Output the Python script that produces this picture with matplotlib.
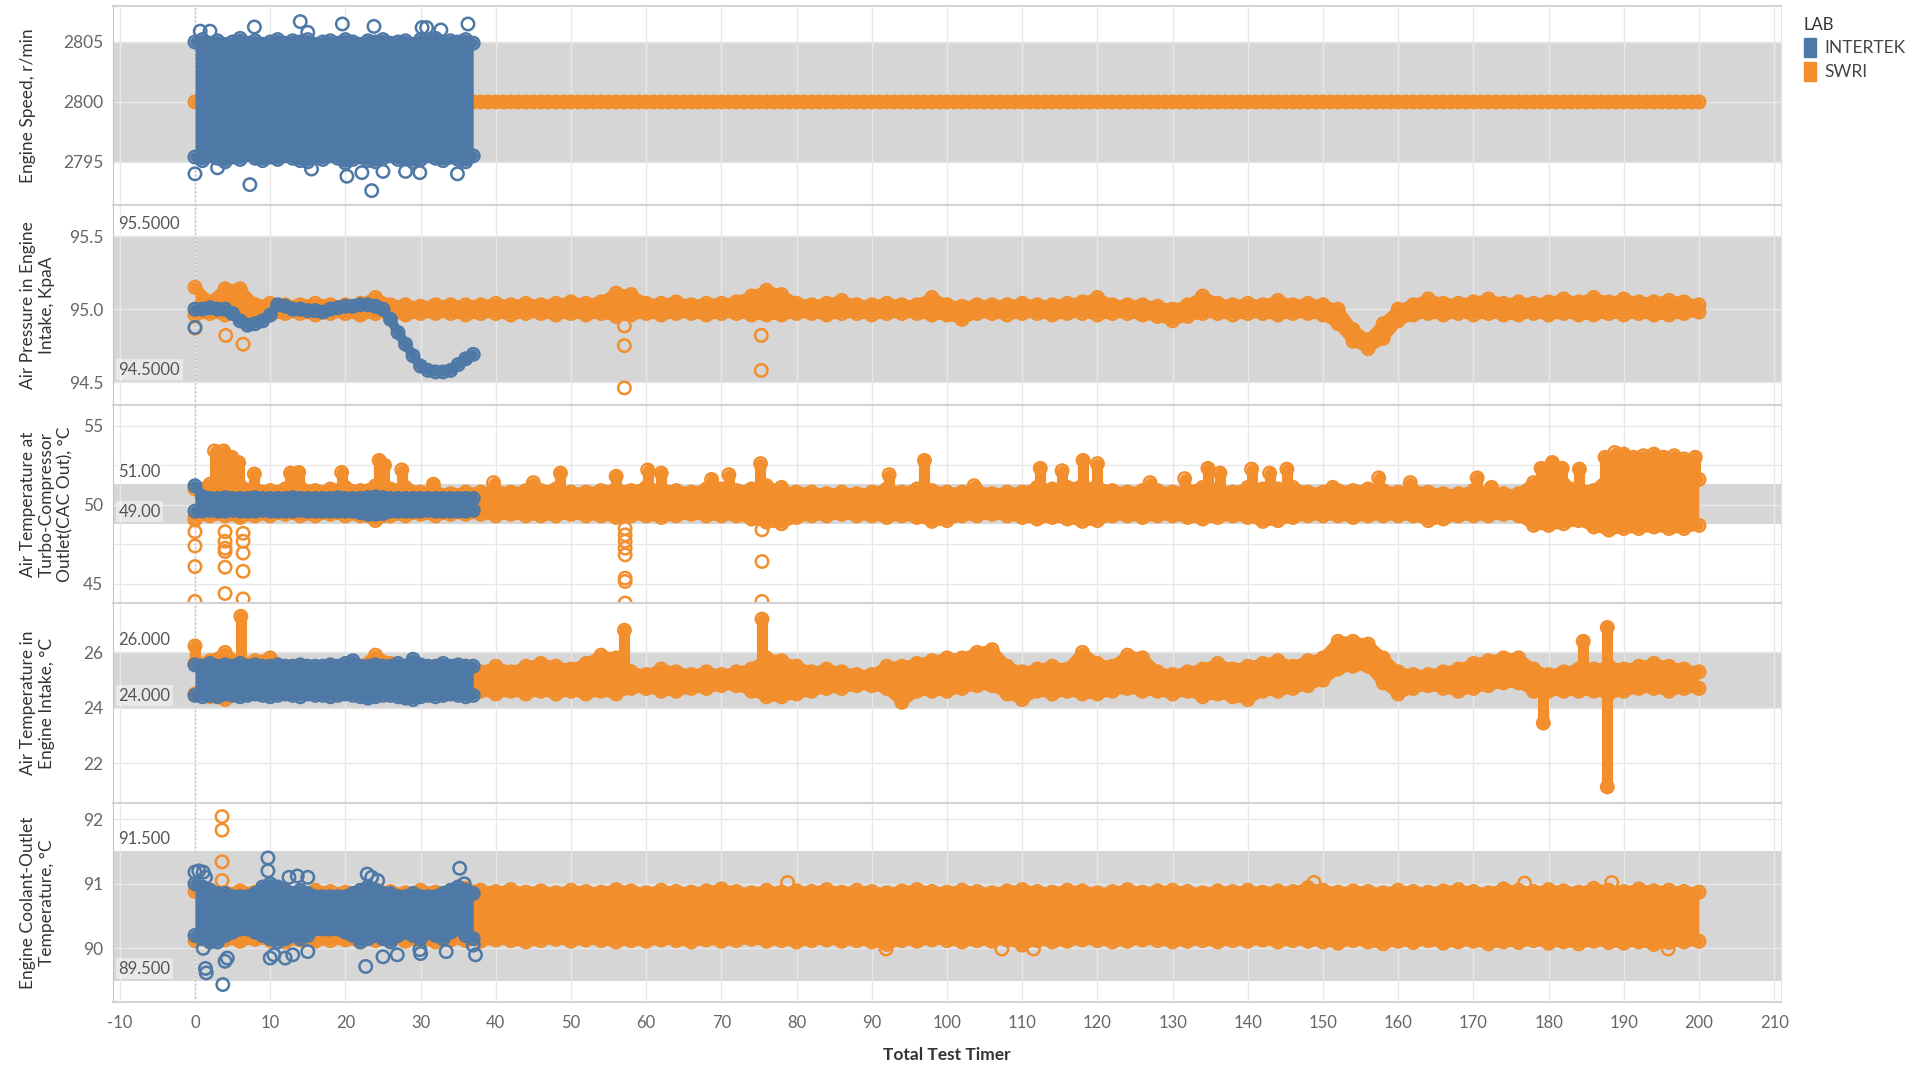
import matplotlib.pyplot as plt
from matplotlib.patches import Patch

plt.rcParams['font.family'] = ['Lato', 'DejaVu Sans']
plt.rcParams['axes.unicode_minus'] = False

BLUE = '#4E79A7'
ORANGE = '#F28E2B'
BAND = '#D6D6D6'

# Total Test Timer stamps
swri_t = list(range(0, 201, 2))
itk_t = list(range(0, 38))

# ---- Engine speed, r/min ----
swri_speed_t = list(range(0, 201))
swri_speed = [2800] * len(swri_speed_t)
itk_speed_hi = [2805.0, 2805.2, 2804.9, 2805.1, 2804.8, 2805.0, 2805.3, 2804.9, 2805.1, 2804.8,
                2805.0, 2805.2, 2804.9, 2805.1, 2805.0, 2805.2, 2804.8, 2805.0, 2805.1, 2804.9,
                2805.2, 2805.0, 2804.8, 2805.1, 2805.0, 2805.2, 2804.9, 2805.0, 2805.1, 2804.8,
                2805.2, 2805.0, 2805.3, 2804.9, 2805.1, 2805.0, 2805.2, 2804.9]
itk_speed_lo = [2795.4, 2795.1, 2795.5, 2795.3, 2795.0, 2795.4, 2795.2, 2795.6, 2795.3, 2795.1,
                2795.4, 2795.2, 2795.5, 2795.3, 2795.1, 2795.0, 2795.4, 2795.2, 2795.5, 2795.3,
                2794.9, 2795.2, 2795.4, 2795.1, 2795.0, 2795.3, 2795.5, 2795.2, 2795.4, 2795.0,
                2795.2, 2795.5, 2795.3, 2795.1, 2795.4, 2795.2, 2795.0, 2795.5]
itk_speed_out_t = [0.7, 2.0, 7.9, 14.0, 15.0, 19.6, 23.8, 30.2, 30.8, 32.7, 36.3,
                   0.0, 3.0, 7.3, 15.5, 20.2, 22.2, 23.5, 25.0, 28.0, 29.9, 34.9]
itk_speed_out = [2805.9, 2805.9, 2806.25, 2806.7, 2805.8, 2806.5, 2806.3, 2806.2, 2806.2, 2806.0, 2806.5,
                 2794.0, 2794.5, 2793.1, 2794.4, 2793.8, 2794.1, 2792.6, 2794.2, 2794.2, 2794.1, 2794.0]

# ---- Air pressure in engine intake, KpaA ----
swri_pres_hi = [95.15, 95.05, 95.14, 95.14, 95.03, 95.04, 95.03, 95.03, 95.04, 95.03,
                95.03, 95.04, 95.08, 95.03, 95.03, 95.02, 95.03, 95.03, 95.03, 95.03,
                95.04, 95.03, 95.04, 95.03, 95.04, 95.05, 95.04, 95.05, 95.11, 95.10,
                95.04, 95.04, 95.05, 95.03, 95.04, 95.04, 95.05, 95.09, 95.13, 95.10,
                95.04, 95.03, 95.04, 95.06, 95.03, 95.03, 95.04, 95.03, 95.03, 95.08,
                95.03, 95.02, 95.03, 95.03, 95.03, 95.04, 95.03, 95.03, 95.04, 95.05,
                95.08, 95.03, 95.03, 95.03, 95.02, 95.00, 95.03, 95.09, 95.04, 95.03,
                95.04, 95.03, 95.06, 95.03, 95.04, 95.03, 95.00, 94.86, 94.79, 94.90,
                95.00, 95.03, 95.07, 95.04, 95.04, 95.05, 95.07, 95.04, 95.05, 95.04,
                95.05, 95.07, 95.05, 95.08, 95.05, 95.07, 95.05, 95.05, 95.06, 95.05, 95.03]
swri_pres_lo = [94.96, 94.97, 94.96, 94.96, 94.97, 94.96, 94.97, 94.97, 94.96, 94.97,
                94.97, 94.96, 94.97, 94.97, 94.96, 94.97, 94.97, 94.97, 94.96, 94.97,
                94.97, 94.96, 94.97, 94.97, 94.96, 94.97, 94.96, 94.97, 94.95, 94.96,
                94.97, 94.96, 94.97, 94.97, 94.96, 94.97, 94.97, 94.96, 94.96, 94.96,
                94.97, 94.97, 94.96, 94.97, 94.97, 94.96, 94.97, 94.97, 94.97, 94.96,
                94.96, 94.93, 94.97, 94.97, 94.96, 94.97, 94.97, 94.96, 94.97, 94.97,
                94.96, 94.97, 94.97, 94.96, 94.95, 94.92, 94.95, 94.97, 94.97, 94.96,
                94.97, 94.97, 94.96, 94.97, 94.97, 94.96, 94.90, 94.78, 94.73, 94.80,
                94.92, 94.96, 94.97, 94.96, 94.97, 94.96, 94.97, 94.96, 94.96, 94.97,
                94.96, 94.97, 94.96, 94.96, 94.97, 94.96, 94.97, 94.96, 94.96, 94.97, 94.98]
swri_pres_out_t = [0.0, 4.1, 6.4, 57.1, 57.1, 57.1, 75.3, 75.3]
swri_pres_out = [94.87, 94.82, 94.76, 94.885, 94.75, 94.46, 94.82, 94.58]
itk_pres = [95.00, 95.00, 95.01, 95.00, 95.00, 94.97, 94.92, 94.89, 94.90, 94.92,
            94.96, 95.03, 95.02, 95.00, 95.00, 94.99, 94.99, 94.98, 95.00, 95.01,
            95.02, 95.02, 95.03, 95.03, 95.02, 95.00, 94.93, 94.84, 94.76, 94.68,
            94.61, 94.58, 94.57, 94.57, 94.58, 94.62, 94.66, 94.69]
itk_pres_out_t = [0.0]
itk_pres_out = [94.875]

# ---- Air temperature at turbo-compressor outlet (CAC out), °C ----
swri_cac_hi = [51.0, 51.3, 51.5, 51.2, 51.0, 50.9, 51.0, 51.1, 50.9, 51.0,
               51.1, 50.9, 51.2, 51.0, 51.1, 50.8, 50.8, 50.7, 50.8, 50.8,
               50.9, 50.8, 50.9, 50.9, 51.0, 50.8, 50.8, 50.9, 51.0, 50.9,
               51.1, 51.0, 50.9, 50.8, 51.0, 51.0, 50.9, 51.0, 51.2, 50.9,
               50.8, 50.8, 50.7, 50.8, 50.7, 50.8, 51.0, 50.8, 51.0, 50.9,
               50.8, 50.8, 50.9, 50.7, 50.8, 50.8, 51.1, 51.0, 51.1, 51.2,
               51.1, 50.9, 50.8, 50.9, 50.9, 50.8, 50.9, 51.1, 51.0, 50.8,
               51.1, 51.0, 51.0, 51.1, 50.8, 50.8, 50.9, 50.9, 51.0, 50.9,
               50.8, 50.9, 50.8, 50.7, 50.7, 50.9, 50.8, 50.7, 50.7, 51.4,
               51.6, 51.3, 51.0, 50.9, 51.8, 51.9, 51.8, 51.9, 51.8, 51.9, 51.6]
swri_cac_lo = [49.2, 49.3, 49.3, 49.2, 49.3, 49.3, 49.4, 49.3, 49.3, 49.4,
               49.3, 49.3, 49.0, 49.3, 49.3, 49.4, 49.3, 49.4, 49.4, 49.4,
               49.3, 49.4, 49.3, 49.3, 49.3, 49.4, 49.3, 49.3, 49.2, 49.3,
               49.3, 49.2, 49.3, 49.4, 49.3, 49.3, 49.3, 49.1, 48.9, 48.8,
               49.2, 49.3, 49.3, 49.4, 49.3, 49.3, 49.2, 49.3, 49.2, 48.95,
               49.0, 49.3, 49.3, 49.4, 49.3, 49.2, 49.1, 49.2, 49.1, 48.95,
               49.0, 49.3, 49.3, 49.2, 49.3, 49.3, 49.2, 49.1, 49.2, 49.3,
               49.2, 48.95, 49.0, 49.2, 49.3, 49.3, 49.3, 49.2, 49.3, 49.3,
               49.3, 49.3, 49.0, 49.1, 49.3, 49.3, 49.3, 49.4, 49.3, 48.7,
               48.7, 48.8, 49.0, 48.6, 48.4, 48.5, 48.5, 48.6, 48.5, 48.5, 48.7]
swri_cac_spike_t = [2.6, 3.8, 4.9, 5.8, 7.9, 12.7, 13.8, 19.5, 24.5, 25.2, 27.5, 31.7,
                    39.7, 45.0, 48.6, 56.0, 60.2, 62.0, 68.7, 71.0, 75.2, 78.0, 92.3, 97.0,
                    103.6, 112.4, 115.3, 118.1, 120.0, 127.0, 131.6, 134.7, 136.3, 140.5, 142.9,
                    145.2, 151.3, 157.4, 161.6, 170.5, 172.4, 179.0, 180.5, 181.8, 184.1,
                    187.5, 188.8, 190.0, 191.3, 192.6, 194.0, 195.3, 196.7, 198.0, 199.5]
swri_cac_spike_base = [50.5, 50.5, 50.5, 50.5, 50.8, 50.8, 50.8, 50.8, 50.8, 50.8, 50.8, 50.8,
                       50.8, 50.8, 50.8, 50.8, 50.8, 50.8, 50.8, 50.8, 50.8, 50.8, 50.8, 50.8,
                       50.8, 50.8, 50.8, 50.8, 50.8, 50.8, 50.8, 50.8, 50.8, 50.8, 50.8,
                       50.8, 50.8, 50.8, 50.8, 50.8, 50.8, 51.0, 51.0, 51.0, 50.8,
                       51.5, 51.5, 51.5, 51.5, 51.5, 51.5, 51.5, 51.5, 51.5, 51.5]
swri_cac_spike_top = [53.4, 53.4, 53.0, 52.67, 51.94, 52.0, 52.04, 52.04, 52.8, 52.5, 52.2, 51.3,
                      51.4, 51.4, 52.0, 51.8, 52.2, 52.0, 51.6, 51.9, 52.6, 51.1, 51.9, 52.8,
                      51.2, 52.3, 52.15, 52.8, 52.6, 51.4, 51.65, 52.3, 52.0, 52.25, 52.0,
                      52.25, 51.1, 51.7, 51.4, 51.7, 51.1, 52.3, 52.67, 52.3, 52.25,
                      53.0, 53.3, 53.2, 53.0, 53.1, 53.2, 53.0, 53.1, 52.9, 53.0]
swri_cac_out_t = [0.0, 0.0, 0.0, 0.0, 0.0,
                  4.0, 4.0, 4.0, 4.0, 4.0, 4.0,
                  6.4, 6.4, 6.4, 6.4, 6.4,
                  57.2, 57.2, 57.2, 57.2, 57.2, 57.2, 57.2, 57.2,
                  75.4, 75.4, 75.4]
swri_cac_out = [49.05, 48.3, 47.4, 46.1, 43.9,
                48.3, 47.7, 47.26, 47.05, 46.06, 44.4,
                48.2, 47.7, 46.95, 45.8, 44.06,
                48.5, 48.1, 47.7, 47.26, 46.84, 45.37, 45.16, 43.8,
                48.42, 46.42, 43.9]
itk_cac_hi = [51.2, 50.5, 50.4, 50.4, 50.45, 50.4, 50.4, 50.4, 50.45, 50.4,
              50.4, 50.4, 50.4, 50.45, 50.4, 50.4, 50.4, 50.4, 50.4, 50.45,
              50.4, 50.4, 50.4, 50.45, 50.5, 50.45, 50.4, 50.4, 50.4, 50.4,
              50.4, 50.4, 50.4, 50.4, 50.4, 50.4, 50.4, 50.4]
itk_cac_lo = [49.6, 49.6, 49.65, 49.6, 49.6, 49.65, 49.6, 49.6, 49.6, 49.65,
              49.6, 49.6, 49.6, 49.6, 49.65, 49.6, 49.6, 49.6, 49.6, 49.6,
              49.6, 49.6, 49.5, 49.4, 49.4, 49.45, 49.6, 49.6, 49.6, 49.6,
              49.6, 49.65, 49.6, 49.6, 49.6, 49.6, 49.6, 49.65]

# ---- Air temperature in engine intake, °C ----
swri_int_hi = [25.6, 25.7, 26.0, 25.6, 25.7, 25.8, 25.5, 25.5, 25.4, 25.5,
               25.4, 25.5, 25.9, 25.6, 25.4, 25.5, 25.5, 25.4, 25.5, 25.3,
               25.5, 25.3, 25.5, 25.6, 25.5, 25.4, 25.6, 25.9, 25.8, 25.3,
               25.2, 25.4, 25.3, 25.2, 25.3, 25.2, 25.3, 25.4, 25.8, 25.7,
               25.5, 25.3, 25.4, 25.3, 25.2, 25.2, 25.5, 25.5, 25.6, 25.7,
               25.8, 25.8, 26.0, 26.1, 25.5, 25.3, 25.4, 25.5, 25.4, 26.0,
               25.6, 25.5, 25.9, 25.8, 25.3, 25.2, 25.3, 25.4, 25.6, 25.4,
               25.5, 25.6, 25.7, 25.5, 25.7, 25.8, 26.4, 26.4, 26.3, 25.8,
               25.3, 25.2, 25.2, 25.3, 25.4, 25.6, 25.7, 25.8, 25.8, 25.4,
               25.2, 25.3, 25.4, 25.4, 25.5, 25.4, 25.5, 25.6, 25.5, 25.4, 25.3]
swri_int_lo = [24.5, 24.4, 24.3, 24.5, 24.6, 24.5, 24.6, 24.6, 24.6, 24.5,
               24.6, 24.6, 24.5, 24.6, 24.6, 24.6, 24.6, 24.6, 24.7, 24.6,
               24.5, 24.6, 24.5, 24.6, 24.5, 24.6, 24.5, 24.6, 24.5, 24.7,
               24.7, 24.6, 24.6, 24.7, 24.7, 24.8, 24.8, 24.6, 24.4, 24.4,
               24.5, 24.6, 24.7, 24.7, 24.8, 24.8, 24.7, 24.2, 24.6, 24.6,
               24.6, 24.7, 24.8, 24.8, 24.5, 24.3, 24.6, 24.5, 24.6, 24.5,
               24.5, 24.6, 24.7, 24.6, 24.6, 24.5, 24.6, 24.4, 24.5, 24.4,
               24.3, 24.6, 24.6, 24.7, 24.8, 25.0, 25.4, 25.5, 25.5, 24.9,
               24.5, 24.7, 24.8, 24.7, 24.6, 24.7, 24.8, 24.9, 24.9, 24.6,
               24.6, 24.6, 24.6, 24.6, 24.5, 24.6, 24.7, 24.7, 24.6, 24.7, 24.7]
swri_int_spike_t = [0.0, 6.1, 57.1, 75.4, 179.3, 184.6, 187.8, 187.8]
swri_int_spike_base = [25.5, 25.5, 25.5, 25.6, 24.6, 25.4, 25.4, 24.6]
swri_int_spike_top = [26.23, 27.3, 26.8, 27.2, 23.45, 26.4, 26.9, 21.15]
itk_int_hi = [25.55, 25.5, 25.6, 25.5, 25.55, 25.5, 25.6, 25.5, 25.55, 25.5,
              25.5, 25.55, 25.5, 25.5, 25.55, 25.5, 25.5, 25.5, 25.55, 25.5,
              25.6, 25.7, 25.5, 25.5, 25.55, 25.5, 25.5, 25.6, 25.5, 25.75,
              25.55, 25.5, 25.5, 25.6, 25.5, 25.55, 25.5, 25.5]
itk_int_lo = [24.45, 24.4, 24.45, 24.4, 24.5, 24.45, 24.4, 24.45, 24.5, 24.45,
              24.4, 24.45, 24.5, 24.45, 24.4, 24.5, 24.45, 24.45, 24.4, 24.45,
              24.5, 24.45, 24.4, 24.35, 24.4, 24.45, 24.45, 24.4, 24.35, 24.3,
              24.4, 24.45, 24.4, 24.45, 24.5, 24.45, 24.4, 24.45]

# ---- Engine coolant-outlet temperature, °C ----
swri_cool_hi = [90.88, 90.90, 90.86, 90.89, 90.87, 90.91, 90.88, 90.86, 90.90, 90.88,
                90.87, 90.89, 90.91, 90.88, 90.86, 90.90, 90.87, 90.89, 90.93, 90.90,
                90.88, 90.91, 90.87, 90.89, 90.86, 90.90, 90.88, 90.87, 90.91, 90.89,
                90.86, 90.90, 90.88, 90.87, 90.89, 90.92, 90.88, 90.86, 90.90, 90.87,
                90.89, 90.88, 90.91, 90.87, 90.90, 90.88, 90.86, 90.89, 90.91, 90.88,
                90.87, 90.90, 90.88, 90.86, 90.89, 90.91, 90.88, 90.87, 90.90, 90.89,
                90.86, 90.88, 90.91, 90.87, 90.89, 90.90, 90.88, 90.86, 90.89, 90.88,
                90.90, 90.87, 90.89, 90.88, 90.94, 90.90, 90.87, 90.89, 90.88, 90.86,
                90.90, 90.88, 90.87, 90.89, 90.91, 90.88, 90.86, 90.92, 90.90, 90.88,
                90.91, 90.89, 90.87, 90.93, 90.90, 90.88, 90.92, 90.89, 90.90, 90.88, 90.87]
swri_cool_lo = [90.12, 90.10, 90.13, 90.11, 90.14, 90.12, 90.10, 90.13, 90.11, 90.12,
                90.13, 90.10, 90.12, 90.14, 90.11, 90.12, 90.10, 90.13, 90.12, 90.11,
                90.13, 90.12, 90.10, 90.12, 90.14, 90.11, 90.13, 90.12, 90.10, 90.12,
                90.11, 90.13, 90.12, 90.10, 90.13, 90.11, 90.12, 90.14, 90.11, 90.12,
                90.10, 90.12, 90.13, 90.11, 90.12, 90.10, 90.06, 90.12, 90.11, 90.13,
                90.12, 90.10, 90.12, 90.11, 90.13, 90.05, 90.12, 90.10, 90.11, 90.13,
                90.12, 90.10, 90.11, 90.13, 90.12, 90.10, 90.11, 90.12, 90.10, 90.12,
                90.11, 90.13, 90.10, 90.12, 90.11, 90.10, 90.08, 90.12, 90.10, 90.07,
                90.11, 90.09, 90.12, 90.08, 90.10, 90.11, 90.07, 90.10, 90.09, 90.12,
                90.08, 90.10, 90.07, 90.11, 90.09, 90.08, 90.10, 90.06, 90.09, 90.10, 90.11]
swri_cool_out_t = [3.6, 3.6, 3.6, 3.6, 78.8, 148.8, 176.8, 188.4, 91.9, 107.3, 111.5, 195.9]
swri_cool_out = [92.04, 91.83, 91.34, 91.05, 91.02, 91.02, 91.01, 91.02, 89.99, 89.99, 89.99, 89.99]
itk_cool_hi = [91.0, 90.95, 90.9, 90.85, 90.85, 90.8, 90.8, 90.8, 90.85, 90.95,
               91.0, 90.95, 90.9, 90.85, 90.9, 90.85, 90.8, 90.8, 90.8, 90.8,
               90.8, 90.85, 90.9, 90.95, 90.9, 90.85, 90.85, 90.8, 90.8, 90.85,
               90.8, 90.8, 90.8, 90.85, 90.9, 90.95, 90.9, 90.85]
itk_cool_lo = [90.2, 90.15, 90.1, 90.1, 90.2, 90.25, 90.3, 90.3, 90.25, 90.2,
               90.15, 90.1, 90.15, 90.2, 90.15, 90.2, 90.3, 90.3, 90.3, 90.3,
               90.25, 90.2, 90.1, 90.15, 90.2, 90.15, 90.1, 90.2, 90.25, 90.2,
               90.15, 90.25, 90.2, 90.15, 90.25, 90.3, 90.2, 90.15]
itk_cool_out_t = [0.0, 0.5, 1.1, 1.4, 9.7, 9.7, 12.5, 13.6, 15.0, 22.9, 23.5, 24.3, 35.2, 35.8,
                  1.1, 1.4, 1.5, 3.7, 4.3, 4.0, 10.0, 10.5, 12.0, 13.0, 15.0, 22.7, 25.0,
                  26.9, 29.9, 30.0, 33.4, 37.3, 37.0]
itk_cool_out = [91.18, 91.2, 91.18, 91.1, 91.4, 91.2, 91.1, 91.12, 91.1, 91.15, 91.1, 91.05, 91.24, 91.0,
                90.0, 89.69, 89.62, 89.44, 89.85, 89.8, 89.85, 89.9, 89.85, 89.9, 89.95, 89.72, 89.87,
                89.9, 89.98, 89.92, 89.95, 89.9, 90.05]


def rings(ax, t, y, color, z):
    ax.scatter(t, y, s=80, marker='o', facecolors='none', edgecolors=color,
               linewidths=1.8, zorder=z)


def trace(ax, t, y, color, z):
    ax.plot(t, y, color=color, lw=7, solid_capstyle='round',
            solid_joinstyle='round', zorder=z)
    rings(ax, t, y, color, z)


def band(ax, t, lo, hi, color, z):
    ax.fill_between(t, lo, hi, color=color, lw=0, zorder=z)
    trace(ax, t, lo, color, z)
    trace(ax, t, hi, color, z)


def spikes(ax, t, base, top, color, z):
    ax.vlines(t, base, top, color=color, lw=8, capstyle='round', zorder=z)
    rings(ax, t, top, color, z)


def band_label(ax, text, y):
    ax.annotate(text, xy=(0, y), xycoords=('axes fraction', 'data'),
                xytext=(4, 3), textcoords='offset points', ha='left', va='bottom',
                fontsize=12, color='#555555', zorder=6,
                bbox=dict(boxstyle='square,pad=0.15', fc='white', ec='none', alpha=0.45))


W, H = 1923, 1066
left, right = 113, 1781
edges = [6, 205, 405, 603, 803, 1002]

fig = plt.figure(figsize=(W / 100, H / 100), dpi=100)
axes = []
for i in range(5):
    ax = fig.add_axes([left / W, 1 - edges[i + 1] / H, (right - left) / W,
                       (edges[i + 1] - edges[i]) / H])
    axes.append(ax)

setup = [
    ("Engine Speed, r/min", (2791.4, 2808.0), [2795, 2800, 2805], ['2795', '2800', '2805'], (2795, 2805)),
    ("Air Pressure in Engine\nIntake, KpaA", (94.343, 95.714), [94.5, 95.0, 95.5], ['94.5', '95.0', '95.5'], (94.5, 95.5)),
    ("Air Temperature at\nTurbo-Compressor\nOutlet(CAC Out), °C", (43.8, 56.3), [45, 50, 55], ['45', '50', '55'], (48.8, 51.3)),
    ("Air Temperature in\nEngine Intake, °C", (20.57, 27.78), [22, 24, 26], ['22', '24', '26'], (24, 26)),
    ("Engine Coolant-Outlet\nTemperature, °C", (89.17, 92.25), [90, 91, 92], ['90', '91', '92'], (89.5, 91.5)),
]

for i, (ax, (title, ylim, ticks, labels, ref)) in enumerate(zip(axes, setup)):
    ax.set_xlim(-10.9, 210.9)
    ax.set_ylim(*ylim)
    ax.axhspan(ref[0], ref[1], color=BAND, lw=0, zorder=0)
    ax.set_yticks(ticks)
    ax.set_yticklabels(labels)
    ax.set_xticks(range(-10, 211, 10))
    ax.set_axisbelow(True)
    ax.grid(True, which='both', color='#E8E8E8', lw=1)
    ax.tick_params(which='both', length=0, labelsize=12.5, labelcolor='#666666', pad=7)
    ax.tick_params(axis='x', labelbottom=(i == 4), pad=9, labelsize=12)
    ax.axvline(0, color='#B8B8B8', lw=1, ls=(0, (1, 2)), zorder=0.6)
    for side in ['top', 'bottom']:
        ax.spines[side].set_color('#D3D3D3')
        ax.spines[side].set_linewidth(1.5)
    ax.spines['left'].set_color('#C4C4C4')
    ax.spines['right'].set_color('#E2E2E2')
    mid = 1 - (edges[i] + edges[i + 1]) / 2 / H
    fig.text(20 / W, mid, title, rotation=90, ha='left', va='center',
             multialignment='center', fontsize=12.5, color='#333333')

axes[2].set_yticks([47.5, 52.5], minor=True)

# panel 1: engine speed
ax = axes[0]
trace(ax, swri_speed_t, swri_speed, ORANGE, 2)
band(ax, itk_t, itk_speed_lo, itk_speed_hi, BLUE, 3)
rings(ax, itk_speed_out_t, itk_speed_out, BLUE, 3)

# panel 2: air pressure
ax = axes[1]
band(ax, swri_t, swri_pres_lo, swri_pres_hi, ORANGE, 2)
rings(ax, swri_pres_out_t, swri_pres_out, ORANGE, 2)
trace(ax, itk_t, itk_pres, BLUE, 3)
rings(ax, itk_pres_out_t, itk_pres_out, BLUE, 3)
band_label(ax, '95.5000', 95.5)
band_label(ax, '94.5000', 94.5)

# panel 3: CAC out temperature
ax = axes[2]
band(ax, swri_t, swri_cac_lo, swri_cac_hi, ORANGE, 2)
spikes(ax, swri_cac_spike_t, swri_cac_spike_base, swri_cac_spike_top, ORANGE, 2)
rings(ax, swri_cac_out_t, swri_cac_out, ORANGE, 2)
band(ax, itk_t, itk_cac_lo, itk_cac_hi, BLUE, 3)
band_label(ax, '51.00', 51.3)
band_label(ax, '49.00', 48.8)

# panel 4: intake air temperature
ax = axes[3]
band(ax, swri_t, swri_int_lo, swri_int_hi, ORANGE, 2)
spikes(ax, swri_int_spike_t, swri_int_spike_base, swri_int_spike_top, ORANGE, 2)
band(ax, itk_t, itk_int_lo, itk_int_hi, BLUE, 3)
band_label(ax, '26.000', 26)
band_label(ax, '24.000', 24)

# panel 5: coolant outlet temperature
ax = axes[4]
band(ax, swri_t, swri_cool_lo, swri_cool_hi, ORANGE, 2)
rings(ax, swri_cool_out_t, swri_cool_out, ORANGE, 2)
band(ax, itk_t, itk_cool_lo, itk_cool_hi, BLUE, 3)
rings(ax, itk_cool_out_t, itk_cool_out, BLUE, 3)
band_label(ax, '91.500', 91.5)
band_label(ax, '89.500', 89.5)

fig.text((left + right) / 2 / W, 1 - 1055 / H, 'Total Test Timer', ha='center', va='center',
         fontsize=12.5, fontweight='bold', color='#333333')

fig.legend(handles=[Patch(color=BLUE), Patch(color=ORANGE)], labels=['INTERTEK', 'SWRI'],
           title='LAB', loc='upper left', bbox_to_anchor=(1788 / W, 1 - 1 / H),
           frameon=False, handlelength=0.7, handleheight=1.3, handletextpad=0.5,
           labelspacing=0.3, alignment='left',
           prop={'size': 12.5}, title_fontproperties={'size': 12})
leg = fig.legends[0]
for txt in leg.get_texts():
    txt.set_color('#444444')
leg.get_title().set_color('#333333')

fig.savefig('out.png', dpi=100)
